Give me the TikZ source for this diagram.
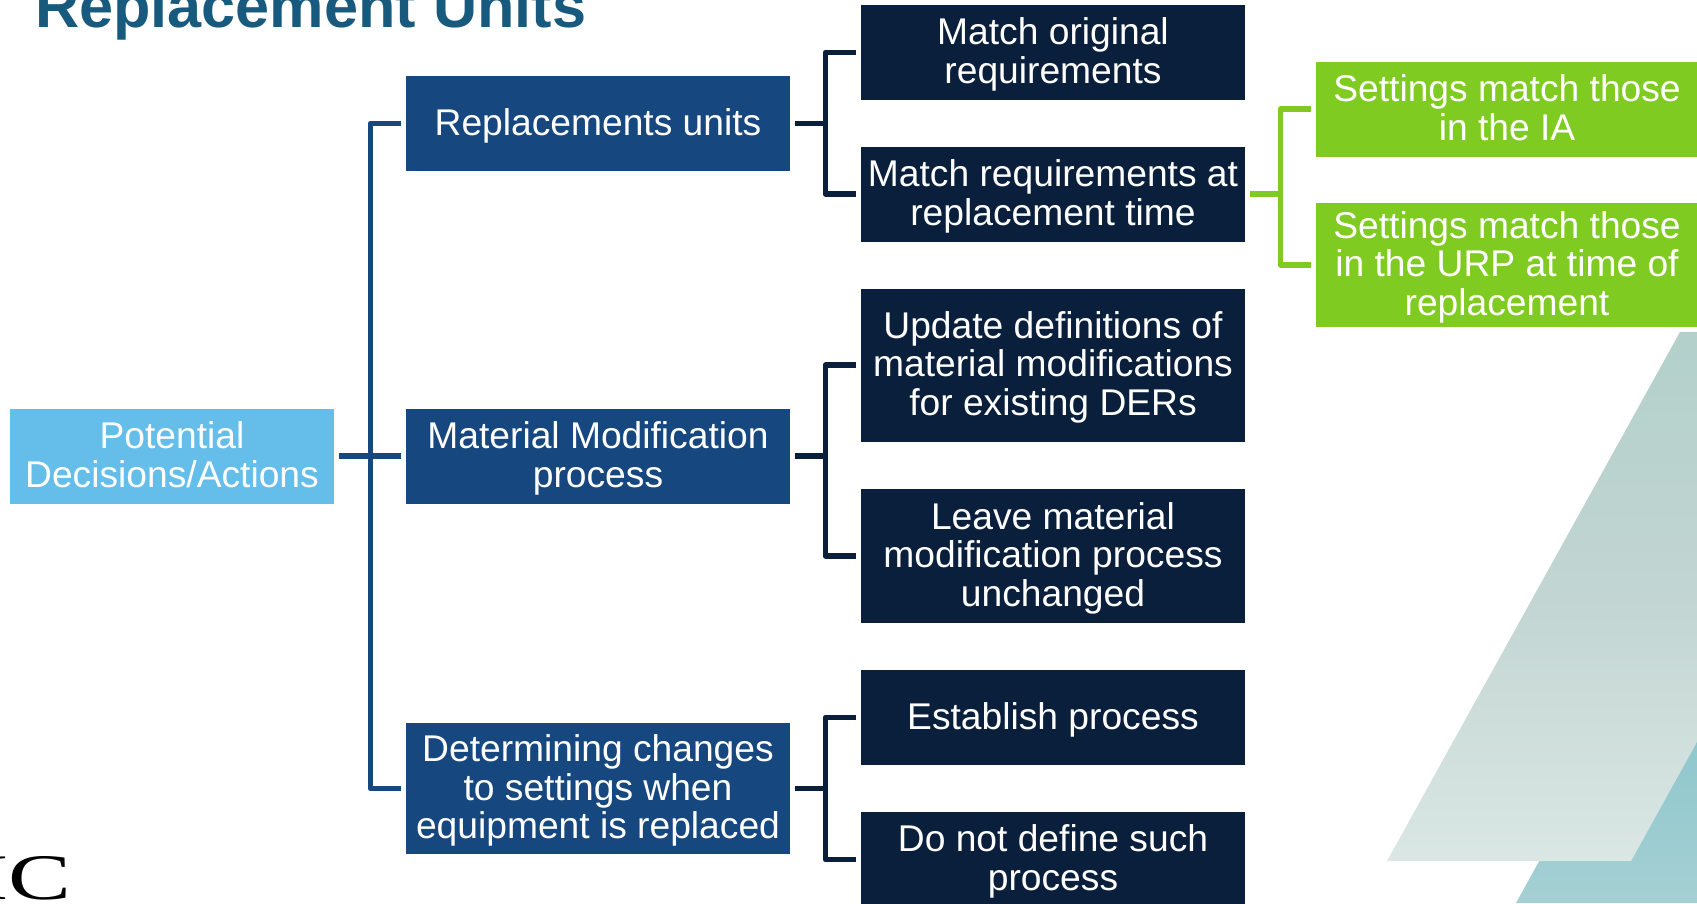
\documentclass[tikz,border=0pt]{standalone}
\usepackage{fontspec}
\setmainfont{Liberation Sans}
\newfontfamily\logofont{Liberation Serif}
\definecolor{rootc}{HTML}{65BDEA}
\definecolor{bluec}{HTML}{17477F}
\definecolor{navyc}{HTML}{0A1F3C}
\definecolor{greenc}{HTML}{80CB21}
\definecolor{titlec}{HTML}{175A7E}
\definecolor{tealtop}{HTML}{8FC7CD}
\definecolor{tealbot}{HTML}{A5D0D3}
\definecolor{paletop}{HTML}{B3D0CB}
\definecolor{palemid}{HTML}{C2D5D2}
\definecolor{palebot}{HTML}{DAE7E4}
\tikzset{
  box/.style={inner sep=0pt,align=center,text=white,minimum width=#1,
    font=\fontsize{37.2}{38.7}\selectfont,
    execute at begin node={\rule{0pt}{31.5pt}},
    execute at end node={\rule[-8pt]{0pt}{8pt}}},
  twolines/.style={execute at begin node={\rule{0pt}{70.2pt}}},
  threelines/.style={execute at begin node={\rule{0pt}{108.9pt}}},
  rootbox/.style={box=324pt,fill=rootc},
  midbox/.style={box=384pt,fill=bluec},
  leafbox/.style={box=384pt,fill=navyc},
  greenbox/.style={box=382pt,fill=greenc},
  bus/.style={line width=5.2pt,line join=round},
  bluebus/.style={bus,draw=bluec},
  navybus/.style={bus,draw=navyc},
  greenbus/.style={bus,draw=greenc},
}
\begin{document}
\begin{tikzpicture}[x=1pt,y=1pt]
\useasboundingbox (0,0) rectangle (1697,-903);
\fill[white] (0,0) rectangle (1697,-903);
% background parallelograms
\shade[top color=tealtop,bottom color=tealbot] (1516,-903) -- (1605,-742) -- (1697,-742) -- (1697,-903) -- cycle;
\shade[top color=paletop,bottom color=palebot,middle color=palemid] (1387,-861) -- (1680,-332) -- (1697,-332) -- (1697,-742) -- (1631,-861) -- cycle;
% title and logo fragment
\node[anchor=base west,inner sep=0pt,text=titlec,font=\fontsize{61.2}{62}\selectfont\bfseries] (title) at (35,-27) {Replacement Units};
\node[anchor=base west,inner sep=0pt,text=black] (logo) at (-23,-899) {\scalebox{1.45}[1]{\logofont\fontsize{65}{65}\selectfont IC}};
% nodes
\node[rootbox,twolines,minimum height=95pt] (root) at (172,-456) {Potential\\Decisions/Actions};
\node[midbox,minimum height=95pt] (m1) at (598,-123.5) {Replacements units};
\node[midbox,twolines,minimum height=95pt] (m2) at (598,-456) {Material Modification\\process};
\node[midbox,threelines,minimum height=131pt] (m3) at (598,-788.5) {Determining changes\\to settings when\\equipment is replaced};
\node[leafbox,twolines,minimum height=95pt] (l1) at (1053,-52.5) {Match original\\requirements};
\node[leafbox,twolines,minimum height=95pt] (l2) at (1053,-194) {Match requirements at\\replacement time};
\node[leafbox,threelines,minimum height=153pt] (l3) at (1053,-365) {Update definitions of\\material modifications\\for existing DERs};
\node[leafbox,threelines,minimum height=134pt] (l4) at (1053,-556) {Leave material\\modification process\\unchanged};
\node[leafbox,minimum height=95pt] (l5) at (1053,-717.5) {Establish process};
\node[leafbox,twolines,minimum height=95pt] (l6) at (1053,-859.5) {Do not define such\\process};
\node[greenbox,twolines,minimum height=95pt] (g1) at (1507,-109) {Settings match those\\in the IA};
\node[greenbox,threelines,minimum height=124pt] (g2) at (1507,-265) {Settings match those\\in the URP at time of\\replacement};
% connectors
\coordinate (j0) at ([xshift=36pt]root.east);
\draw[bluebus] ([xshift=5pt]root.east) -- (j0);
\draw[bluebus] ([xshift=-5pt]m1.west) -| (j0) |- ([xshift=-5pt]m3.west);
\draw[bluebus] (j0) -- ([xshift=-5pt]m2.west);
\coordinate (j1) at ([xshift=35pt]m1.east);
\draw[navybus] ([xshift=5pt]m1.east) -- (j1);
\draw[navybus] ([xshift=-5pt]l1.west) -| (j1) |- ([xshift=-5pt]l2.west);
\coordinate (j2) at ([xshift=35pt]m2.east);
\draw[navybus] ([xshift=5pt]m2.east) -- (j2);
\draw[navybus] ([xshift=-5pt]l3.west) -| (j2) |- ([xshift=-5pt]l4.west);
\coordinate (j3) at ([xshift=35pt]m3.east);
\draw[navybus] ([xshift=5pt]m3.east) -- (j3);
\draw[navybus] ([xshift=-5pt]l5.west) -| (j3) |- ([xshift=-5pt]l6.west);
\coordinate (j4) at ([xshift=35pt]l2.east);
\draw[greenbus] ([xshift=5pt]l2.east) -- (j4);
\draw[greenbus] ([xshift=-5pt]g1.west) -| (j4) |- ([xshift=-5pt]g2.west);
\end{tikzpicture}
\end{document}
